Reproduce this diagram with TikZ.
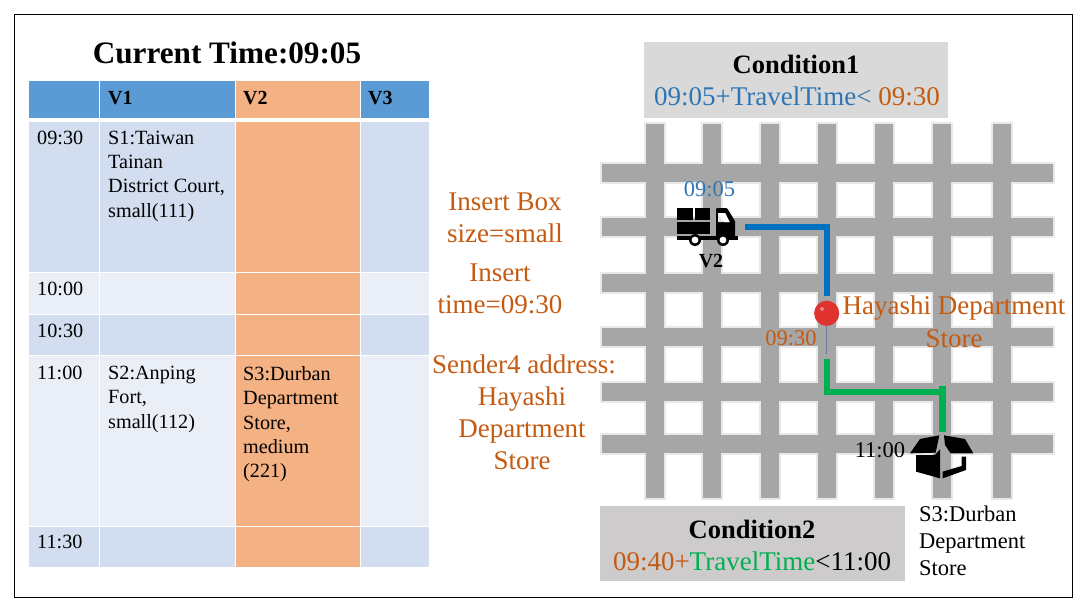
\documentclass[tikz,border=0pt]{standalone}
\usepackage{fontspec}
\setmainfont{Liberation Serif}
\definecolor{hdrblue}{HTML}{5B9BD5}
\definecolor{cellorange}{HTML}{F4B183}
\definecolor{rowa}{HTML}{D2DEEF}
\definecolor{rowb}{HTML}{EAEFF7}
\definecolor{rust}{HTML}{C55A11}
\definecolor{skyblue}{HTML}{2E75B6}
\definecolor{routeblue}{HTML}{0070C0}
\definecolor{routegreen}{HTML}{00B050}
\definecolor{street}{HTML}{A6A6A6}
\definecolor{halo}{HTML}{E8E8E8}
\definecolor{condA}{HTML}{D9D9D9}
\definecolor{condB}{HTML}{CDCBCB}
\definecolor{pinred}{HTML}{E0322E}
\definecolor{pinstem}{HTML}{6E7A96}
\tikzset{
  x=1pt,y=-1pt,
  celltext/.style={anchor=north west,inner sep=0pt,align=left,font=\fontsize{20.2}{24.4}\selectfont,text=black},
  hdrtext/.style={anchor=west,inner sep=0pt,font=\fontsize{20}{24}\selectfont\bfseries,text=black},
  rusttext/.style={inner sep=0pt,align=center,text=rust,text height=23pt,text depth=6pt,font=\fontsize{27}{32}\selectfont},
  condtitle/.style={inner sep=0pt,font=\fontsize{26.5}{30}\selectfont\bfseries},
  condline/.style={inner sep=0pt,font=\fontsize{27}{30}\selectfont},
  small lab/.style={inner sep=0pt,font=\fontsize{22.5}{26}\selectfont},
  route/.style={line width=6pt,line cap=butt,line join=miter},
}
\begin{document}
\begin{tikzpicture}
\useasboundingbox (0,0) rectangle (1088,610);
\fill[white] (0,0) rectangle (1088,610);
\draw[black,line width=1pt] (14.5,14.5) rectangle (1072.5,597.5);
% title
\node[inner sep=0pt,font=\fontsize{31.2}{35}\selectfont\bfseries] (title) at (227,53) {Current Time:09:05};
% table
\foreach \xa/\xb/\c in {29/98.5/hdrblue,100/234.5/hdrblue,235.7/360/cellorange,361/429/hdrblue}
  \fill[\c] (\xa,81) rectangle (\xb,118);
\foreach \ya/\yb/\c in {122/271.5/rowa,272.5/313.5/rowb,314.5/354.5/rowa,355.5/525.5/rowb,526.5/567/rowa}{
  \fill[\c] (29,\ya) rectangle (98.5,\yb);
  \fill[\c] (100,\ya) rectangle (234.5,\yb);
  \fill[cellorange] (235.7,\ya) rectangle (360,\yb);
  \fill[\c] (361,\ya) rectangle (429,\yb);
}
\node[hdrtext] (hv1) at (108,98) {V1};
\node[hdrtext] (hv2) at (243,98) {V2};
\node[hdrtext] (hv3) at (368,98) {V3};
\node[celltext] (t1) at (37,130.5) {09:30};
\node[celltext] (t2) at (37,282) {10:00};
\node[celltext] (t3) at (37,323.5) {10:30};
\node[celltext] (t4) at (37,366) {11:00};
\node[celltext] (t5) at (37,535) {11:30};
\node[celltext] (s1) at (108,130.5) {S1:Taiwan\\Tainan\\District Court,\\small(111)};
\node[celltext] (s2) at (108,366) {S2:Anping\\Fort,\\small(112)};
\node[celltext] (s3) at (243,366) {S3:Durban\\Department\\Store,\\medium\\(221)};
% middle text
\node[rusttext] (m1) at (505,202) {Insert Box};
\node[rusttext] (m2) at (505,234) {size=small};
\node[rusttext] (m3) at (500,273) {Insert};
\node[rusttext] (m4) at (500,305) {time=09:30};
\node[rusttext] (m5) at (524,364.5) {Sender4 address:};
\node[rusttext] (m6) at (522,397) {Hayashi};
\node[rusttext] (m7) at (522,429) {Department};
\node[rusttext] (m8) at (522,461) {Store};
% condition 1
\fill[condA] (644,42) rectangle (948,118);
\node[condtitle] (c1) at (796,64) {Condition1};
\node[condline] (c1b) at (797,96) {\textcolor{skyblue}{09:05+TravelTime<}\ \textcolor{rust}{09:30}};
% grid
\foreach \x in {654.5,712,770,827,884,942,1002}
  \fill[halo] (\x-11,122) rectangle (\x+11,500);
\foreach \y in {173,227,283,337,392,444}
  \fill[halo] (600,\y-11) rectangle (1055,\y+11);
\foreach \x in {654.5,712,770,827,884,942,1002}
  \fill[street] (\x-9,124) rectangle (\x+9,498);
\foreach \y in {173,227,283,337,392,444}
  \fill[street] (602,\y-9) rectangle (1053,\y+9);
% truck
\begin{scope}[shift={(677,208)}]
  \fill[black] (0,0) rectangle (15.5,11.5);
  \fill[black] (18,0) rectangle (33,11.5);
  \fill[black] (0,14) rectangle (33,26);
  \fill[black] (0,27.5) rectangle (61,32);
  \fill[black,rounded corners=1pt] (39,0) -- (50,0) -- (58,13) -- (58,29) -- (39,29) -- cycle;
  \fill[halo] (41,5) -- (48,5) -- (52.5,14) -- (41,14) -- cycle;
  \fill[white] (41,5) -- (48,5) -- (52.5,14) -- (47,14) -- cycle;
  \foreach \cx in {18,46}{
    \fill[black] (\cx,32) circle (6);
    \fill[white] (\cx,32) circle (3.4);
  }
\end{scope}
\node[small lab,text=skyblue] (tv) at (709.5,189) {09:05};
\node[inner sep=0pt,font=\fontsize{20}{22}\selectfont\bfseries] (v2) at (711,261) {V2};
% routes
\coordinate (ra) at (745,227.3);
\coordinate (rb) at (826.7,227.3);
\coordinate (rc) at (826.7,296);
\coordinate (ga) at (827,359);
\coordinate (gb) at (827,392);
\coordinate (gc) at (942,392);
\coordinate (gt) at (942,386);
\coordinate (gd) at (942,432);
\draw[route,routeblue] (ra) -- (rb) -- (rc);
\draw[route,routegreen] (ga) -- (gb) -- (gc);
\draw[route,routegreen,line width=7pt] (gt) -- (gd);
% pin
\coordinate (pintop) at (826.7,313.3);
\coordinate (pinend) at (826.7,353.5);
\draw[line width=1.2pt,pinstem] (pintop) -- (pinend);
\fill[pinred] (pintop) circle (12.6);
\fill[pinred!60!white] (822,309) circle (2);
\node[small lab,text=rust] (t930) at (791,338) {09:30};
\node[rusttext] (h1) at (954,306) {Hayashi Department};
\node[rusttext] (h2) at (954,338.5) {Store};
% open box
\begin{scope}[shift={(760,290)},x=0.33333pt,y=-0.33333pt]
  \fill[black] (450,490) -- (480,447) -- (538,436) -- (527,488) -- cycle;
  \fill[black] (552,436) -- (615,447) -- (640,490) -- (572,490) -- (555,465) -- cycle;
  \fill[black] (468,495) -- (525,495) -- (540,478) -- (540,565) -- (468,545) -- cycle;
  \fill[black] (548,545) -- (605,528) -- (605,500) -- (618,500) -- (618,540) -- (548,565) -- cycle;
\end{scope}
\node[small lab,text=black] (t11) at (880,450) {11:00};
% condition 2
\fill[condB] (600,506) rectangle (905,581);
\node[condtitle] (c2) at (752,529) {Condition2};
\node[condline] (c2b) at (752,561) {\textcolor{rust}{09:40+}\textcolor{routegreen}{TravelTime}\textcolor{black}{<11:00}};
\node[inner sep=0pt,align=left,anchor=north west,font=\fontsize{22.5}{27}\selectfont] (dest) at (919,506) {S3:Durban\\Department\\Store};
\end{tikzpicture}
\end{document}
